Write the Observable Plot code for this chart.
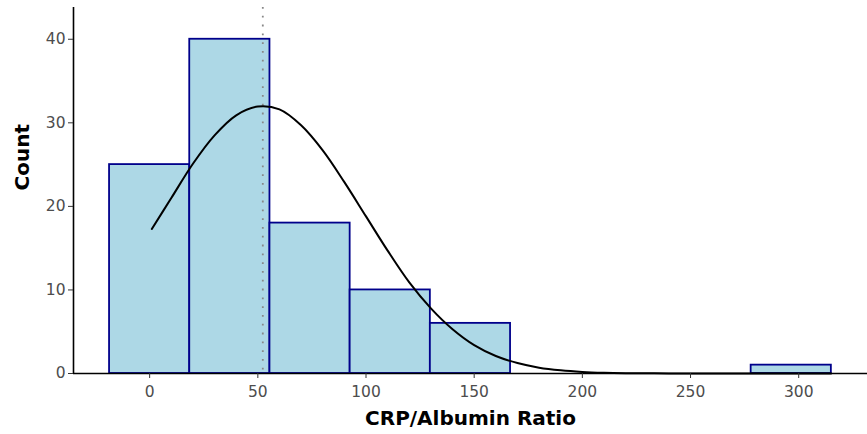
<!DOCTYPE html>
<html>
<head>
<meta charset="utf-8">
<script src="https://cdn.jsdelivr.net/npm/d3@7"></script>
<script src="https://cdn.jsdelivr.net/npm/@observablehq/plot@0.6"></script>
<style>
  html, body { margin: 0; padding: 0; background: #fff; }
  #chart svg { display: block; }
</style>
</head>
<body>
<div id="chart"></div>
<script>
// Histogram bins (centres, width) and counts
const binWidth = 37.07;
const binCenters = [0, 37.07, 74.14, 111.21, 148.28, 296.56];
const binCounts = [25, 40, 18, 10, 6, 1];

// Fitted normal curve
const curveX = [1, 10, 20, 30, 40, 50, 60, 70, 80, 90, 100, 110, 120, 130, 140, 150, 160, 170, 180, 190, 200, 210, 220, 230, 240, 260, 280, 300, 315];
const curveY = [17.3, 21.0, 25.1, 28.5, 30.9, 31.95, 31.6, 29.7, 26.7, 22.9, 18.8, 14.7, 10.9, 7.8, 5.3, 3.4, 2.1, 1.25, 0.7, 0.38, 0.19, 0.09, 0.04, 0.02, 0.01, 0, 0, 0, 0];

// Mean marker
const meanValue = [52.3];

const xTicks = [0, 50, 100, 150, 200, 250, 300];
const yTicks = [0, 10, 20, 30, 40];

const bins = binCenters.map((c, i) => ({x1: c - binWidth / 2, x2: c + binWidth / 2, count: binCounts[i]}));
const curve = curveX.map((x, i) => ({x, y: curveY[i]}));

const xDomain = [-35.2, 331.8];
const yDomain = [0, 43.8];

const chart = Plot.plot({
  width: 867,
  height: 434,
  marginLeft: 73,
  marginRight: 0,
  marginTop: 7,
  marginBottom: 61,
  style: {fontFamily: "DejaVu Sans", background: "#fff"},
  x: {domain: xDomain},
  y: {domain: yDomain},
  marks: [
    Plot.rectY(bins, {x1: "x1", x2: "x2", y1: 0, y2: "count", fill: "#ADD8E6", stroke: "#00008B", strokeWidth: 1.8}),
    Plot.ruleX(meanValue, {stroke: "#888", strokeWidth: 1.8, strokeDasharray: "1.8,7"}),
    Plot.line(curve, {x: "x", y: "y", stroke: "#000", strokeWidth: 2, curve: "catmull-rom"}),
    Plot.ruleX([xDomain[0]], {stroke: "#000", strokeWidth: 1.6}),
    Plot.ruleY([0], {stroke: "#000", strokeWidth: 1.6}),
    Plot.axisX({ticks: xTicks, tickSize: 5, tickPadding: 7, fontSize: 15.5, fill: "#4d4d4d", stroke: "#333", label: null}),
    Plot.axisY({ticks: yTicks, tickSize: 5, tickPadding: 3, fontSize: 15.5, fill: "#4d4d4d", stroke: "#333", label: null}),
    Plot.text(["CRP/Albumin Ratio"], {frameAnchor: "bottom", dy: 51, fontSize: 20, fontWeight: "bold", fill: "#000"}),
    Plot.text(["Count"], {frameAnchor: "left", dx: -51, rotate: -90, fontSize: 20, fontWeight: "bold", fill: "#000"})
  ]
});
document.getElementById("chart").appendChild(chart);
</script>
</body>
</html>
